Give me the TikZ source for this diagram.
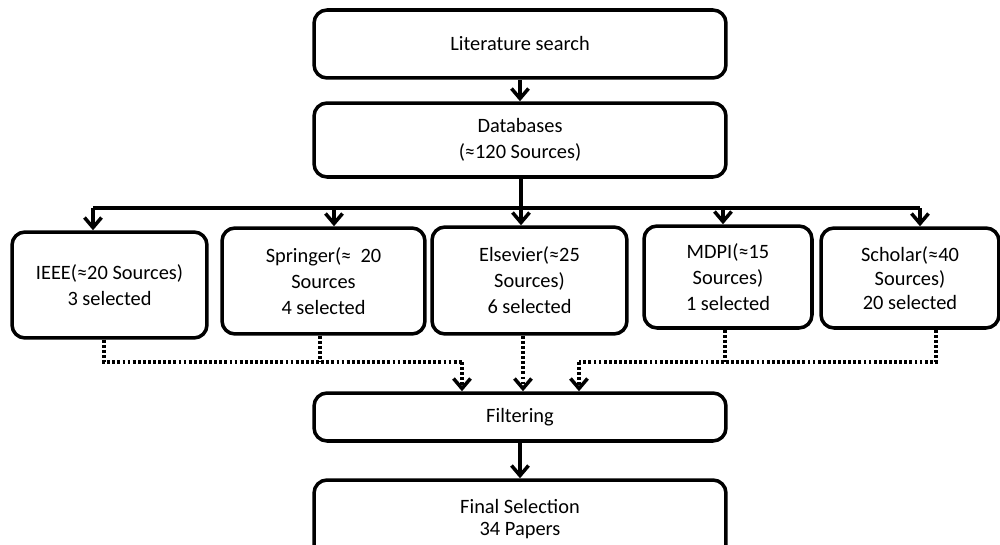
\documentclass[tikz,border=0pt]{standalone}
\usepackage{fontspec}
\setmainfont{Carlito}
\usetikzlibrary{arrows.meta}
\begin{document}
\begin{tikzpicture}[x=0.02cm,y=-0.02cm,
  box/.style={draw, rounded corners=0.26cm, line width=2pt, align=center, inner sep=0pt,
    font=\fontsize{11.6pt}{14.8pt}\selectfont},
  conn/.style={line width=2pt},
  arr/.style={line width=2pt, -{Straight Barb[length=2mm,width=3.4mm,line width=2pt]}},
  dot/.style={line width=2pt, dash pattern=on 1.6pt off 1.3pt},
  dotarr/.style={dot, -{Straight Barb[length=2mm,width=3.4mm,line width=2pt]}}]
\clip (0,0) rectangle (1000,544);
\fill[white] (0,0) rectangle (1000,544);

\node[box, minimum width=8.24cm, minimum height=1.36cm] (lit) at (520,44) {Literature search};
\node[box, minimum width=8.24cm, minimum height=1.48cm] (db) at (520,140) {Databases\\(≈120 Sources)};
\node[box, minimum width=3.9cm, minimum height=2.12cm] (ieee) at (109.5,285) {IEEE(≈20 Sources)\\3 selected};
\node[box, minimum width=4.06cm, minimum height=2.12cm] (spr) at (323.5,281) {Springer(≈\ \ 20\\Sources\\4 selected};
\node[box, minimum width=3.9cm, minimum height=2.14cm] (els) at (529.5,280.5) {Elsevier(≈25\\Sources)\\6 selected};
\node[box, minimum width=3.36cm, minimum height=2.04cm] (mdpi) at (728,277) {MDPI(≈15\\Sources)\\1 selected};
\node[box, minimum width=3.56cm, minimum height=2.0cm, font=\fontsize{11.6pt}{13.7pt}\selectfont] (sch) at (910,278) {Scholar(≈40\\Sources)\\20 selected};
\node[box, minimum width=8.24cm, minimum height=0.96cm] (filt) at (520,417) {Filtering};
\node[box, minimum width=8.24cm, minimum height=1.6cm, font=\fontsize{11.6pt}{12.6pt}\selectfont, text depth=0.12cm] (final) at (520,520) {Final Selection\\34 Papers};

\draw[arr] (lit) -- (db);
\coordinate (bar) at (521,208);
\coordinate (b1) at (93,208);
\coordinate (b2) at (334,208);
\coordinate (b3) at (521,208);
\coordinate (b4) at (723,208);
\coordinate (b5) at (920,208);
\draw[conn] (db.south -| bar) -- (bar);
\draw[conn] (b1) -- (b5);
\draw[arr] (b1) -- (b1 |- ieee.north);
\draw[arr] (b2) -- (b2 |- spr.north);
\draw[arr] (b3) -- (b3 |- els.north);
\draw[arr] (b4) -- (b4 |- mdpi.north);
\draw[arr] (b5) -- (b5 |- sch.north);

\coordinate (j1) at (104,362);
\coordinate (j2) at (320,362);
\coordinate (j3) at (462,362);
\coordinate (j4) at (523,362);
\coordinate (j5) at (579,362);
\coordinate (j6) at (725,362);
\coordinate (j7) at (936,362);
\draw[dot] (j1 |- ieee.south) -- (j1) -- (j3);
\draw[dot] (j2 |- spr.south) -- (j2);
\draw[dotarr] (j3) -- (j3 |- filt.north);
\draw[dotarr] (j4 |- els.south) -- (j4 |- filt.north);
\draw[dot] (j7 |- sch.south) -- (j7) -- (j5);
\draw[dot] (j6 |- mdpi.south) -- (j6);
\draw[dotarr] (j5) -- (j5 |- filt.north);

\draw[arr] (filt) -- (final);
\end{tikzpicture}
\end{document}
